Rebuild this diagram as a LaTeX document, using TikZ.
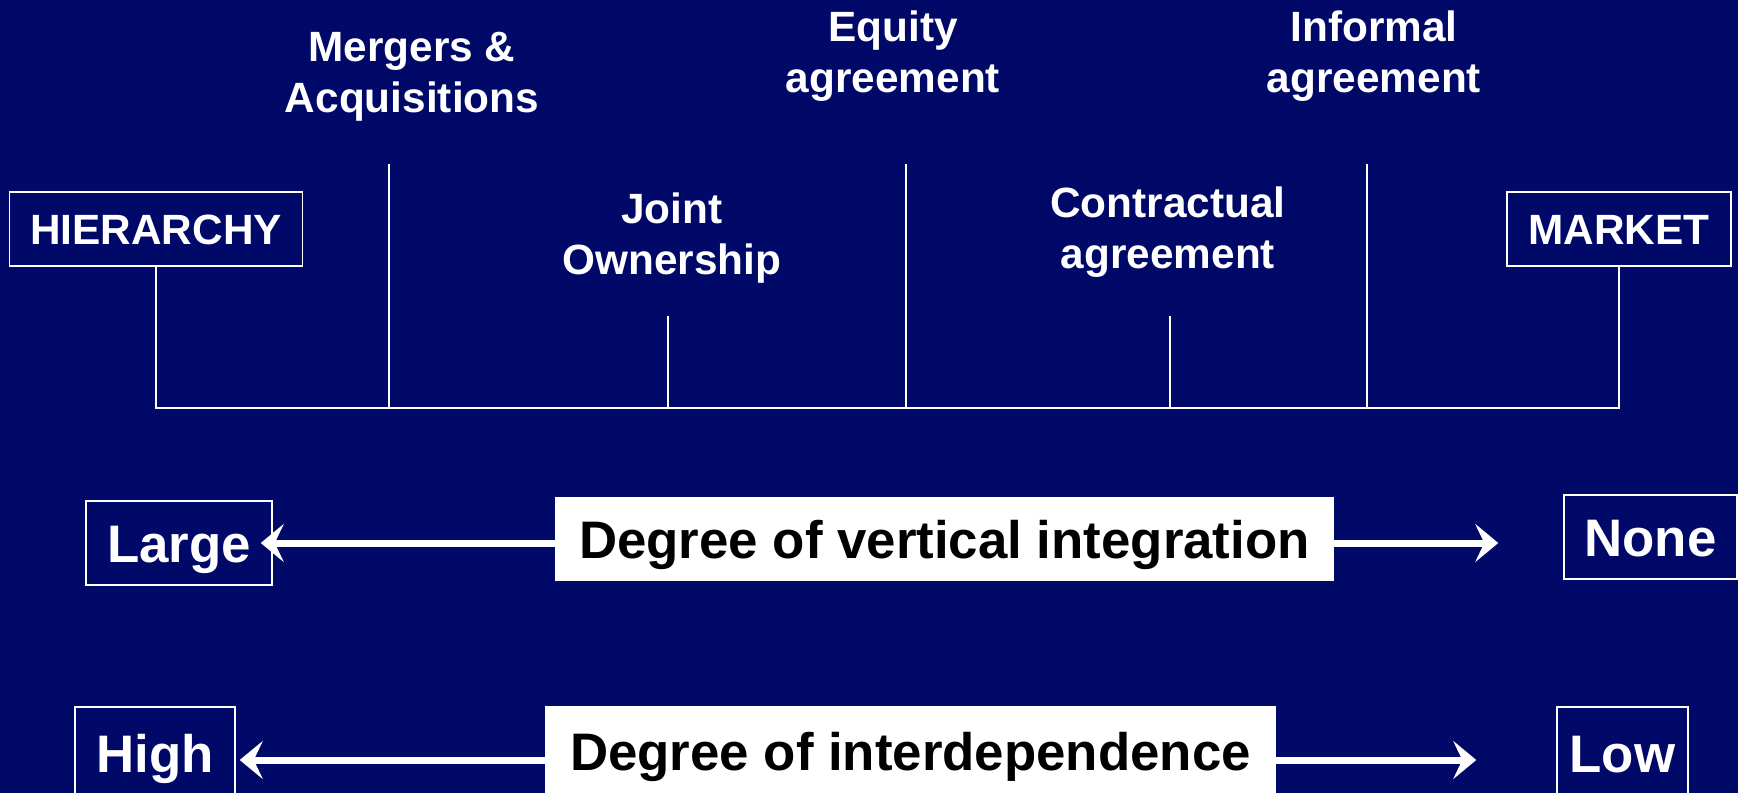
\documentclass[tikz,border=0pt]{standalone}
\usepackage{fontspec}
\setmainfont{Liberation Sans}
\usepackage{tikz}
\usetikzlibrary{arrows.meta}
\definecolor{navy}{RGB}{0,8,104}

\begin{document}
\begin{tikzpicture}[x=1bp,y=-1bp,
  toplabel/.style={text=white,align=center,font=\bfseries\fontsize{42.5}{51}\selectfont},
  framebox/.style={draw=white,line width=1.5bp,text=white,inner sep=0pt,text height=30.6bp,text depth=0bp,font=\bfseries\fontsize{42.5}{51}\selectfont},
  endbox/.style={draw=white,line width=1.5bp,text=white,inner sep=0pt,text height=38bp,text depth=0bp,font=\bfseries\fontsize{53}{60}\selectfont},
  whitebox/.style={fill=white,text=black,inner sep=0pt,text height=38bp,text depth=0bp,font=\bfseries\fontsize{53}{60}\selectfont},
  bigarrow/.style={draw=white,line width=7bp,-{Stealth[length=23bp,width=38bp,inset=9bp]}},
  thin/.style={draw=white,line width=2bp}]
 \useasboundingbox (0,0) rectangle (1738,793);
 \fill[navy] (0,0) rectangle (1738,793);

 % forms of organisation
 \node [toplabel] (ma)  at (412,77)  {Mergers \&\\Acquisitions};
 \node [toplabel] (eq)  at (893,56)  {Equity\\agreement};
 \node [toplabel] (inf) at (1374,56) {Informal\\agreement};
 \node [toplabel] (jo)  at (672,238) {Joint\\Ownership};
 \node [toplabel] (ca)  at (1168,232) {Contractual\\agreement};

 \node [framebox,minimum width=293bp,minimum height=74bp] (hier) at (156,229) {HIERARCHY};
 \node [framebox,minimum width=224bp,minimum height=74bp] (mkt) at (1619,229) {MARKET};

 \coordinate (barR) at (1619,408);
 \draw [thin] (hier.south) |- (barR) -- (mkt.south);
 \foreach \x/\t in {389/164, 668/316, 906/164, 1170/316, 1367/164}
   \draw [thin] (\x,\t) -- (\x,408);

 % degree of vertical integration
 \node [endbox,minimum width=186bp,minimum height=84bp] (large) at (179,543) {Large};
 \node [whitebox,minimum width=779bp,minimum height=84bp] (deg1) at (944.5,539) {Degree of vertical integration};
 \node [endbox,minimum width=173bp,minimum height=84bp] (none) at (1650.5,537) {None};
 \draw [bigarrow,shorten >=-12bp] (deg1.west |- large.east) -- (large.east);
 \draw [bigarrow,shorten >=65bp] (deg1.east |- large.east) -- (none.west |- large.east);

 % degree of interdependence
 \node [endbox,minimum width=160bp,minimum height=92bp] (high) at (155,753) {High};
 \node [whitebox,minimum width=731bp,minimum height=90bp] (deg2) at (910.5,751) {Degree of interdependence};
 \node [endbox,minimum width=131bp,minimum height=92bp] (low) at (1622.5,753) {Low};
 \draw [bigarrow,shorten >=4bp] ([yshift=-7bp]deg2.west |- high.east) -- ([yshift=-7bp]high.east);
 \draw [bigarrow,shorten >=80bp] ([yshift=-7bp]deg2.east |- high.east) -- ([yshift=-7bp]low.west |- high.east);
\end{tikzpicture}
\end{document}
